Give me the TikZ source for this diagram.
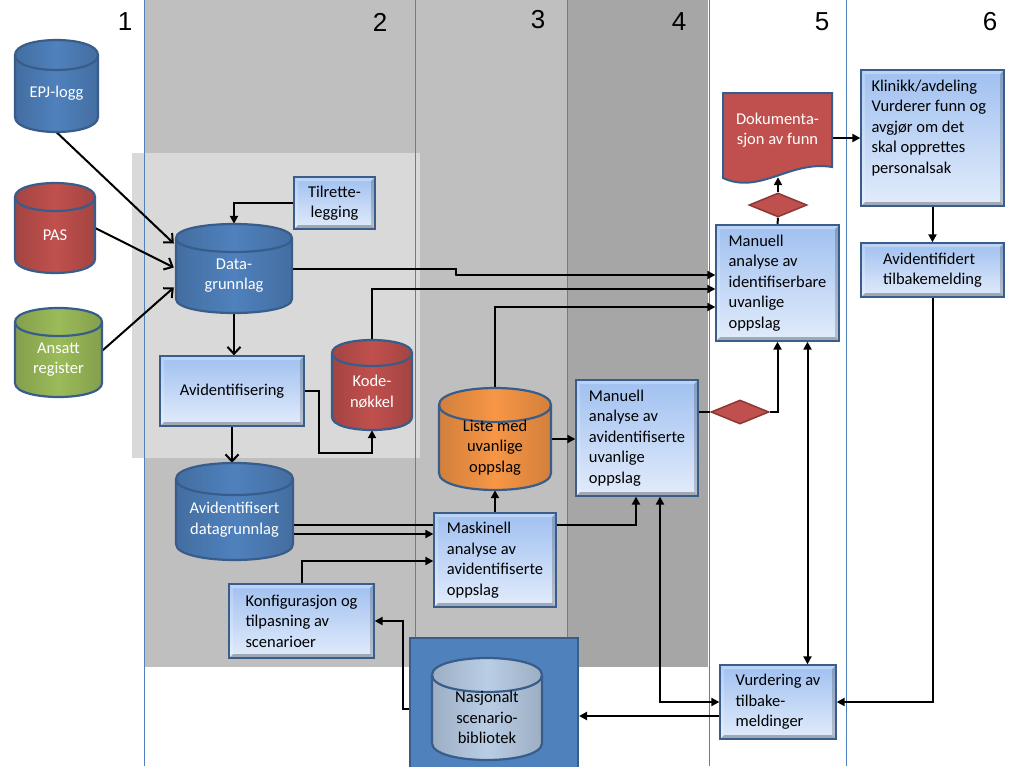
\documentclass[tikz,border=0pt]{standalone}
\usepackage{fontspec}
\setmainfont{Carlito}
\newfontfamily\numfont{Liberation Sans}
\usetikzlibrary{arrows.meta,calc,shapes.geometric}
\pgfdeclarelayer{bg}
\pgfdeclarelayer{conn}
\pgfsetlayers{bg,conn,main}
\definecolor{cylborder}{RGB}{56,93,138}
\definecolor{blueA}{RGB}{79,129,189}
\definecolor{redA}{RGB}{192,80,77}
\definecolor{greenA}{RGB}{155,187,89}
\definecolor{orangeA}{RGB}{247,150,70}
\definecolor{paleA}{RGB}{185,205,229}
\definecolor{boxtop}{RGB}{160,192,240}
\definecolor{boxbot}{RGB}{226,236,251}
\definecolor{boxborder}{RGB}{58,94,140}
\definecolor{grayA}{RGB}{191,191,191}
\definecolor{grayB}{RGB}{166,166,166}
\definecolor{grayL}{RGB}{217,217,217}
\definecolor{colline}{RGB}{79,129,189}
\definecolor{diaborder}{RGB}{140,56,54}
\newcommand\lbl{\fontsize{16.5}{20.5}\selectfont}
\newcommand\dbcyl[9]{%
  \pgfmathsetmacro\cA{#3+#6}%
  \pgfmathsetmacro\cB{#5-#6}%
  \pgfmathsetmacro\kA{\cA-4/3*#6}%
  \pgfmathsetmacro\kB{\cB+4/3*#6}%
  \pgfmathsetmacro\kC{\cA+4/3*#6}%
  \pgfmathsetmacro\wA{#4-#2}%
  \pgfmathsetmacro\hA{#5-#3}%
  \pgfmathsetmacro\xm{(#2+#4)/2}%
  \pgfmathsetmacro\ym{(#3+#5)/2}%
  \pgfmathsetmacro\ys{-#6/2}%
  \path[left color=#7!85!black,right color=#7!85!black,middle color=#7,draw=cylborder,line width=2.2pt]
    (#2,\cA) -- (#2,\cB) .. controls (#2,\kB) and (#4,\kB) .. (#4,\cB) -- (#4,\cA)
    .. controls (#4,\kA) and (#2,\kA) .. cycle;
  \draw[cylborder,line width=2.2pt] (#2,\cA) .. controls (#2,\kC) and (#4,\kC) .. (#4,\cA);
  \node[inner sep=0pt,minimum width=\wA pt,minimum height=\hA pt,
    label={[text=#8,font=\lbl,align=center,inner sep=0pt,yshift=\ys pt]center:{#9}}] (#1) at (\xm,\ym) {};
}
\tikzset{
  pbox/.style={rectangle,draw=boxborder,line width=1.3pt,top color=boxtop,bottom color=boxbot,
    font=\lbl,align=left,inner sep=0pt,
    path picture={
      \fill[black,opacity=0.28] (path picture bounding box.south west) -- (path picture bounding box.south east)
        -- ([shift={(-4pt,4pt)}]path picture bounding box.south east) -- ([shift={(4pt,4pt)}]path picture bounding box.south west) -- cycle;
      \fill[black,opacity=0.18] (path picture bounding box.north east) -- (path picture bounding box.south east)
        -- ([shift={(-4pt,4pt)}]path picture bounding box.south east) -- ([shift={(-4pt,-4pt)}]path picture bounding box.north east) -- cycle;
      \fill[white,opacity=0.30] (path picture bounding box.north west) -- (path picture bounding box.north east)
        -- ([shift={(-4pt,-4pt)}]path picture bounding box.north east) -- ([shift={(4pt,-4pt)}]path picture bounding box.north west) -- cycle;
      \fill[white,opacity=0.20] (path picture bounding box.north west) -- (path picture bounding box.south west)
        -- ([shift={(4pt,4pt)}]path picture bounding box.south west) -- ([shift={(4pt,-4pt)}]path picture bounding box.north west) -- cycle;
    }},
  dia/.style={diamond,fill=redA,draw=diaborder,line width=1.5pt,minimum width=58pt,minimum height=24pt,inner sep=0pt},
  farr/.style={draw=black,line width=2pt,-{Triangle[length=8pt,width=8pt]}},
  darr/.style={draw=black,line width=2pt,{Triangle[length=8pt,width=8pt]}-{Triangle[length=8pt,width=8pt]}},
  oarr/.style={draw=black,line width=2pt,-{Straight Barb[length=7pt,width=13pt]}},
  plain/.style={draw=black,line width=2pt},
  colnum/.style={font=\numfont\fontsize{26}{30}\selectfont,inner sep=0pt}
}
\begin{document}
\begin{tikzpicture}[x=1pt,y=-1pt]
\useasboundingbox (0,0) rectangle (1020,766);
\begin{pgfonlayer}{bg}
  \fill[white] (0,0) rectangle (1020,766);
  \fill[grayA] (145,0) rectangle (567,667);
  \fill[grayB] (567,0) rectangle (708,667);
  \fill[grayL] (132,153) rectangle (420,458);
  \foreach \x in {144,415.5,567,709,846} \draw[colline,line width=0.9pt] (\x,0) -- (\x,766);
\end{pgfonlayer}

% column numbers
\node[colnum] (n1) at (125,22) {1};
\node[colnum] (n2) at (380,22) {2};
\node[colnum] (n3) at (538,20) {3};
\node[colnum] (n4) at (679,22) {4};
\node[colnum] (n5) at (822,22) {5};
\node[colnum] (n6) at (990,22) {6};

% cylinders
\dbcyl{epj}{15}{40}{98}{132}{15}{blueA}{white}{EPJ-logg}
\dbcyl{pas}{15}{183}{95}{273}{14}{redA}{white}{PAS}
\dbcyl{ans}{15}{308}{102}{397}{14}{greenA}{white}{Ansatt\\register}
\dbcyl{dg}{176}{224}{292}{313}{14}{blueA}{white}{Data-\\grunnlag}
\dbcyl{kode}{332}{340}{412}{430}{13}{redA}{white}{Kode-\\nøkkel}
\dbcyl{adg}{176}{463}{293}{560}{16}{blueA}{white}{Avidentifisert\\datagrunnlag}
\dbcyl{liste}{439}{388}{551}{490}{17}{orangeA}{black}{Liste med\\uvanlige\\oppslag}
\node[draw=cylborder,fill=blueA,line width=2pt,minimum width=168pt,minimum height=140pt,anchor=north west,inner sep=0pt] (nasbox) at (409,637) {};
\dbcyl{nas}{432}{658}{542}{760}{17}{paleA}{black}{Nasjonalt\\scenario-\\bibliotek}

% boxes
\node[pbox,align=center,minimum width=81pt,minimum height=52pt] (tl) at (334.5,203) {Tilrette-\\legging};
\node[pbox,minimum width=144pt,minimum height=70pt] (avid) at (232,391) {Avidentifisering};
\node[pbox,minimum width=122pt,minimum height=94pt] (mask) at (495,560) {Maskinell\\analyse av\\avidentifiserte\\oppslag};
\node[pbox,minimum width=145pt,minimum height=74pt] (konf) at (301.5,621) {Konfigurasjon og\\tilpasning av\\scenarioer};
\node[pbox,minimum width=122pt,minimum height=116pt] (man1) at (637,438) {Manuell\\analyse av\\avidentifiserte\\uvanlige\\oppslag};
\node[pbox,minimum width=123pt,minimum height=116pt] (man2) at (777.5,283) {Manuell\\analyse av\\identifiserbare\\uvanlige\\oppslag};
\node[pbox,minimum width=143pt,minimum height=136pt,
  label={[font=\lbl,align=left,anchor=north west,inner sep=0pt,xshift=11pt,yshift=-10pt]north west:{Klinikk/avdeling\\Vurderer funn og\\avgjør om det\\skal opprettes\\personalsak}}] (klin) at (932.5,138) {};
\node[pbox,minimum width=143pt,minimum height=54pt] (avtb) at (932.5,270) {Avidentifidert\\tilbakemelding};
\node[pbox,minimum width=116pt,minimum height=74pt] (vurd) at (778,702) {Vurdering av\\tilbake-\\meldinger};

% document shape
\path[fill=redA,draw=cylborder,line width=2pt] (723,93) -- (832,93) -- (832,167)
  .. controls (790,160) and (760,195) .. (723,178) -- cycle;
\node[inner sep=0pt,minimum width=109pt,minimum height=84pt,
  label={[text=white,font=\lbl,align=center,inner sep=0pt,yshift=5pt]center:{Dokumenta-\\sjon av funn}}] (dok) at (777.5,135) {};

% diamonds
\node[dia] (d1) at (778,205) {};
\node[dia] (d2) at (740,412) {};

% helper points on node borders
\coordinate (vw) at ($(vurd.west)+(0,14)$);
\coordinate (m2b) at ($(man2.south)+(30,0)$);
\coordinate (m1b) at ($(man1.south)+(23,0)$);

% connectors
\begin{pgfonlayer}{conn}
  \draw[oarr] (epj.south) -- ($(dg.west)+(-2,-25)$);
  \draw[oarr] (pas.east) -- ($(dg.west)+(-2,-1)$);
  \draw[oarr] ($(ans.east)+(-2,0)$) -- ($(dg.west)+(-2,19)$);
  \draw[farr] (tl.west) -| (dg.north);
  \draw[oarr] (dg.south) -- (dg.south |- avid.north);
  \draw[oarr] (avid.south) -- (avid.south |- adg.north);
  \draw[farr] (avid.east) -- ++(14,0) -- ++(0,62) -| (kode.south);
  \draw[farr] (kode.north) |- ($(man2.west)+(0,6)$);
  \draw[farr] (dg.east) -- ++(164,0) -- ++(0,7) |- ($(man2.west)+(0,-8)$);
  \draw[farr] (liste.north) |- ($(man2.west)+(0,24)$);
  \draw[farr] (liste.east) -- (liste.east -| man1.west);
  \draw[farr] (mask.north) -- (mask.north |- liste.south);
  \draw[farr] ($(adg.east)+(0,13.5)$) -| ($(man1.south)+(-1,0)$);
  \draw[farr] ($(adg.east)+(0,22.5)$) -- ($(mask.west)+(0,-26)$);
  \draw[farr] (konf.north) |- ($(mask.west)+(0,1)$);
  \draw[farr] (nas.west) -- ++(-29,0) |- (konf.east);
  \draw[farr] (vw) -- (vw -| nasbox.east);
  \draw[darr] (m1b) |- (vurd.west);
  \draw[plain] (man1.east |- d2.west) -- (d2.west);
  \draw[farr] (d2.east) -| (man2.south);
  \draw[plain] (man2.north) -- (d1.south);
  \draw[farr] (d1.north) -- (d1.north |- dok.south);
  \draw[farr] (dok.east |- klin.west) -- (klin.west);
  \draw[farr] (klin.south) -- (avtb.north);
  \draw[farr] (avtb.south) |- (vurd.east);
  \draw[darr] (m2b) -- (m2b |- vurd.north);
\end{pgfonlayer}
\end{tikzpicture}
\end{document}
